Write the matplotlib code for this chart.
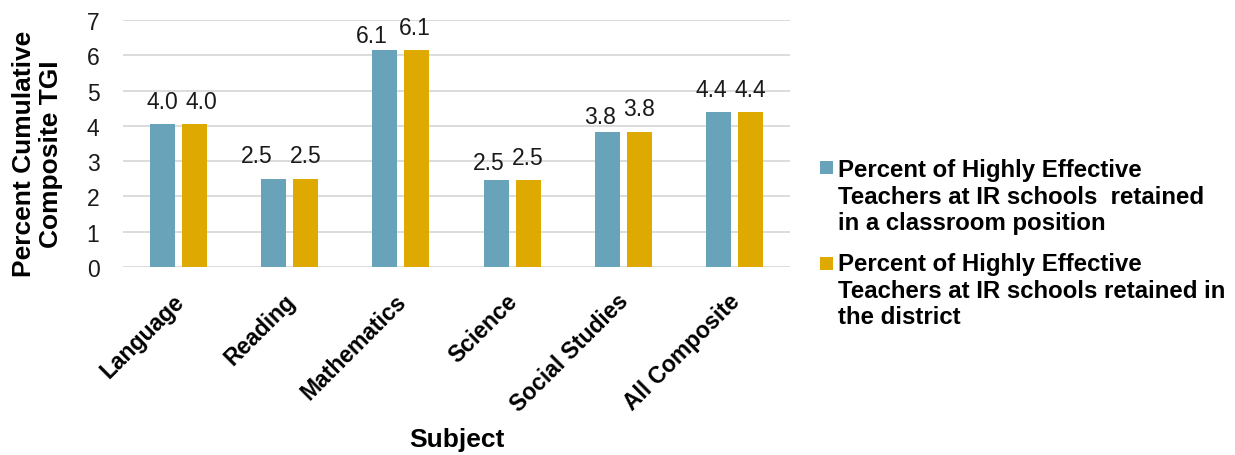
import matplotlib
matplotlib.use("Agg")
import matplotlib.pyplot as plt
import matplotlib.transforms as mtransforms
from matplotlib.patches import Rectangle
import numpy as np

plt.rcParams['font.family'] = ['Liberation Sans', 'DejaVu Sans']

subjects = ["Language", "Reading", "Mathematics", "Science", "Social Studies", "All Composite"]
classroom = [4.04, 2.50, 6.14, 2.46, 3.83, 4.38]
district = [4.04, 2.50, 6.14, 2.46, 3.83, 4.38]
series_names = [
    "Percent of Highly Effective\nTeachers at IR schools  retained\nin a classroom position",
    "Percent of Highly Effective\nTeachers at IR schools retained in\nthe district",
]
colors = ["#68a3ba", "#dea900"]

# label nudges (pixels: right, down) so neighbouring value labels don't collide
nudge_classroom = [(-0.5, 0), (-16.5, 0), (-13, 8), (-7.5, 5), (-7, 8), (-7.5, 0)]
nudge_district = [(7, 0), (-0.5, 0), (-2, 0), (0, 0), (0, 0), (0, 0)]

W, H = 1235, 456
PX = 72 / 100  # points per pixel
fig = plt.figure(figsize=(W / 100, H / 100), dpi=100)
ax = fig.add_axes([123 / W, 1 - 268 / H, 667 / W, 247 / H])

x = np.arange(len(subjects))
w = 0.225
off = 0.144
for vals, dx, c, nudges in [(classroom, -off, colors[0], nudge_classroom),
                            (district, off, colors[1], nudge_district)]:
    bars = ax.bar(x + dx, vals, width=w, color=c, zorder=3)
    for b, v, (nx, ny) in zip(bars, vals, nudges):
        ax.annotate(f"{v:.1f}", (b.get_x() + b.get_width() / 2, v),
                    xytext=(nx * PX, (16.5 - ny) * PX), textcoords="offset points",
                    ha="center", va="baseline", fontsize=16.5, color="#1a1a1a")

ax.set_xlim(-0.5, len(subjects) - 0.5)
ax.set_ylim(0, 7)
ax.set_yticks(range(8))
ax.yaxis.grid(True, color="#d9d9d9", linewidth=1.3, zorder=0)
for s in ax.spines.values():
    s.set_visible(False)
ax.tick_params(axis="both", length=0, colors="#1a1a1a")
ax.tick_params(axis="y", pad=17, labelsize=16.5)
ax.set_xticks(x)
ax.set_xticklabels(subjects, rotation=45, ha="right", rotation_mode="anchor",
                   fontsize=16.5, fontweight="bold", color="black")
ax.tick_params(axis="x", pad=16)
shift = mtransforms.ScaledTranslation(-6 / 100, 0, fig.dpi_scale_trans)
for lbl in ax.get_xticklabels():
    lbl.set_transform(lbl.get_transform() + shift)

ax.set_ylabel("Percent Cumulative\nComposite TGI", fontsize=19, fontweight="bold",
              linespacing=1.15)
ax.yaxis.set_label_coords((63 - 123) / 667, 1 - (154 - 21) / 247)
ax.set_xlabel("Subject", fontsize=19, fontweight="bold")
ax.xaxis.set_label_coords(0.5, (268 - 428) / 247)

# legend: square marker beside the first line of each wrapped entry
text_tops = [159, 253]
box_tops = [162, 258]
for name, c, ty, by in zip(series_names, colors, text_tops, box_tops):
    fig.patches.append(Rectangle((820 / W, 1 - (by + 13) / H), 13 / W, 13 / H,
                                 transform=fig.transFigure, facecolor=c, edgecolor="none"))
    fig.text(838 / W, 1 - ty / H, name, ha="left", va="top", fontsize=17.3,
             fontweight="bold", linespacing=1.2, color="black")

fig.savefig("out.png", dpi=100)
